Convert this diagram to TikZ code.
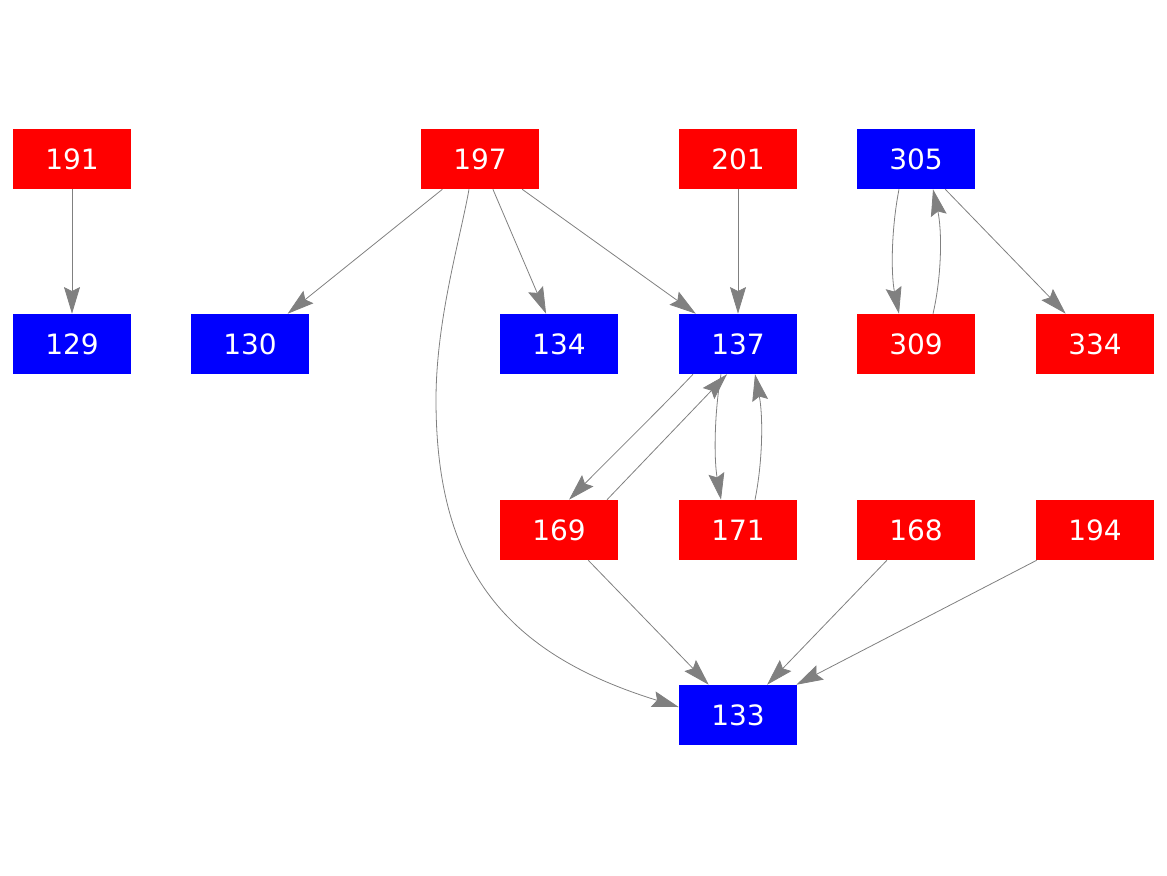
\documentclass[tikz,border=0pt]{standalone}
\usepackage{fontspec}
\setmainfont{DejaVu Sans}
\usetikzlibrary{arrows.meta,calc}
\begin{document}
\begin{tikzpicture}[x=0.75pt,y=-0.75pt,
  box/.style={rectangle, minimum width=88.5pt, minimum height=45pt, inner sep=0pt, text=white, font=\fontsize{21pt}{25pt}\selectfont},
  redbox/.style={box, fill=red},
  bluebox/.style={box, fill=blue},
  conn/.style={draw=gray, line width=0.6pt, -{Stealth[length=20pt,width=12pt,inset=3pt]}}
]
\useasboundingbox (0,0) rectangle (1167,875);
\node[redbox]  (n191) at (72,159)  {191};
\node[redbox]  (n197) at (480,159) {197};
\node[redbox]  (n201) at (738,159) {201};
\node[bluebox] (n305) at (916,159) {305};
\node[bluebox] (n129) at (72,344)  {129};
\node[bluebox] (n130) at (250,344) {130};
\node[bluebox] (n134) at (559,344) {134};
\node[bluebox] (n137) at (738,344) {137};
\node[redbox]  (n309) at (916,344) {309};
\node[redbox]  (n334) at (1095,344) {334};
\node[redbox]  (n169) at (559,530) {169};
\node[redbox]  (n171) at (738,530) {171};
\node[redbox]  (n168) at (916,530) {168};
\node[redbox]  (n194) at (1095,530) {194};
\node[bluebox] (n133) at (738,715) {133};

\draw[conn] (n191) -- (n129);
\draw[conn] (n197) -- (n130);
\draw[conn] (n197) -- (n134);
\draw[conn] (n197) -- (n137);
\draw[conn] (n201) -- (n137);
\draw[conn] (n305) -- (n334);
\draw[conn] (n169) -- (n133);
\draw[conn] (n168) -- (n133);
\draw[conn] (n194) -- (n133);

% 197 -> 133 long curve
\draw[conn] ($(n197.south)+(-11,0)$) .. controls (460,240) and (436,320) .. (436,400)
  .. controls (436,570) and (507,654) .. ($(n133.west)+(0,-8)$);

% 137 <-> 169
\draw[conn] ($(n137.south)+(-45,0)$) .. controls (660,409) and (618,450) .. ($(n169.north)+(10,0)$);
\draw[conn] ($(n169.north)+(48,0)$) -- ($(n137.south)+(-11,0)$);

% 137 <-> 171
\draw[conn] ($(n137.south)+(-17,0)$) .. controls (714,415) and (714,460) .. ($(n171.north)+(-17,0)$);
\draw[conn] ($(n171.north)+(17,0)$) .. controls (763,460) and (763,415) .. ($(n137.south)+(17,0)$);

% 305 <-> 309
\draw[conn] ($(n305.south)+(-17,0)$) .. controls (891,230) and (891,275) .. ($(n309.north)+(-17,0)$);
\draw[conn] ($(n309.north)+(17,0)$) .. controls (942,275) and (942,230) .. ($(n305.south)+(17,0)$);
\end{tikzpicture}
\end{document}
